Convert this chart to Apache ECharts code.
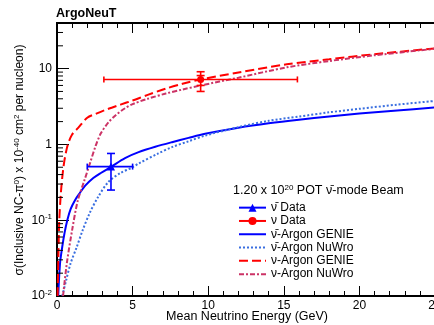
<!DOCTYPE html>
<html>
<head>
<meta charset="utf-8">
<script src="https://cdn.jsdelivr.net/npm/echarts@6/dist/echarts.min.js"></script>
<style>
  html, body { margin: 0; padding: 0; background: #fff; }
  #chart { width: 434px; height: 325px; }
</style>
</head>
<body>
<div id="chart"></div>
<script>
// ν̄ GENIE (solid blue)
const genieNubarE = [0.08, 0.2, 0.35, 0.5, 0.68, 0.9, 1.2, 1.5, 1.9, 2.4, 2.9, 3.6, 4.5, 5.4, 6.5, 7.6, 8.7, 9.8, 12, 14, 16, 18, 20, 22.5, 25];
const genieNubarSigma = [0.01, 0.027, 0.045, 0.068, 0.1, 0.14, 0.185, 0.227, 0.29, 0.36, 0.42, 0.51, 0.66, 0.79, 0.93, 1.07, 1.22, 1.38, 1.66, 1.9, 2.12, 2.33, 2.55, 2.8, 3.08];
// ν̄ NuWro (dotted blue)
const nuwroNubarE = [0.35, 0.6, 0.9, 1.3, 1.7, 2.16, 2.7, 3.4, 4.2, 5.0, 5.4, 6.7, 7.6, 8.7, 9.8, 12, 14, 16, 18, 20, 22.5, 25];
const nuwroNubarSigma = [0.01, 0.016, 0.027, 0.044, 0.074, 0.124, 0.2, 0.32, 0.42, 0.5, 0.56, 0.76, 0.92, 1.1, 1.31, 1.69, 2.05, 2.33, 2.65, 2.95, 3.35, 3.75];
// ν GENIE (dashed red)
const genieNuE = [0.04, 0.1, 0.15, 0.25, 0.35, 0.46, 0.6, 0.72, 1.0, 1.4, 2.0, 2.6, 3.4, 4.2, 5.0, 6.0, 7.2, 8.3, 9.5, 12, 15.2, 18, 21, 25];
const genieNuSigma = [0.01, 0.04, 0.1, 0.22, 0.37, 0.56, 0.8, 1.0, 1.35, 1.65, 2.25, 2.55, 2.95, 3.35, 3.8, 4.5, 5.45, 6.3, 7.2, 8.9, 11.4, 13.3, 15.5, 18.5];
// ν NuWro (dash-dot pink)
const nuwroNuE = [0.4, 0.65, 1.0, 1.37, 1.8, 2.2, 2.55, 2.9, 3.4, 3.9, 4.5, 5.0, 6.0, 7.2, 8.3, 9.5, 12, 15.2, 18, 21, 25];
const nuwroNuSigma = [0.01, 0.027, 0.074, 0.18, 0.33, 0.58, 0.95, 1.4, 1.95, 2.45, 3.0, 3.4, 4.0, 4.7, 5.3, 6.0, 7.6, 10.4, 12.6, 15.0, 18.3];

// measured points: ν̄ then ν
const dataNames = ['ν̄ Data', 'ν Data'];
const dataE = [3.57, 9.5];
const dataSigma = [0.51, 7.2];
const dataELow = [2.0, 3.1];
const dataEHigh = [5.0, 15.9];
const dataTotLow = [0.25, 5.0];
const dataTotHigh = [0.76, 9.1];
const dataStatLow = [null, 6.0];
const dataStatHigh = [null, 8.1];

const xTicks = [0, 5, 10, 15, 20, 25];
const yDecades = [0.01, 0.1, 1, 10];

const FONT = 'Liberation Sans, Arial, Helvetica, sans-serif';
const sup = { fontSize: 8, fontFamily: FONT, color: '#000', padding: [0, 0, 7, 0] };

const BLUE = '#0000ff';
const LBLUE = '#3a6fe0';
const RED = '#ff0000';
const PINK = '#cc3366';
const dataColors = [BLUE, RED];

const yMinor = [];
yDecades.forEach(d => { for (let k = 2; k <= 9; k++) { if (k * d < 40) yMinor.push(k * d); } });

const chart = echarts.init(document.getElementById('chart'), null, { renderer: 'canvas' });

function pairs(xs, ys) { return xs.map((x, i) => [x, ys[i]]); }

const errRows = dataE.map((e, i) => [e, dataSigma[i], dataELow[i], dataEHigh[i], dataTotLow[i], dataTotHigh[i],
  dataStatLow[i] == null ? NaN : dataStatLow[i], dataStatHigh[i] == null ? NaN : dataStatHigh[i]]);

function seg(x1, y1, x2, y2, color) {
  return { type: 'line', shape: { x1, y1, x2, y2 }, style: { stroke: color, lineWidth: 1.6 } };
}

// legend entries for curves: line only, no marker
const noMarker = { opacity: 0 };

const option = {
  backgroundColor: '#fff',
  animation: false,
  grid: {
    left: 57, top: 23, width: 378, height: 273, show: true, borderColor: '#000', borderWidth: 2,
    backgroundColor: 'transparent', containLabel: false, outerBoundsMode: 'none'
  },
  xAxis: [{
    type: 'value', min: 0, max: 25, interval: 5,
    axisLine: { show: true, lineStyle: { color: '#000', width: 2 } },
    axisTick: { show: true, inside: true, length: 10, lineStyle: { color: '#000', width: 1 } },
    minorTick: { show: true, splitNumber: 5, length: 5, lineStyle: { color: '#000', width: 1 } },
    splitLine: { show: false },
    axisLabel: { color: '#000', fontSize: 12, fontFamily: FONT, margin: 4,
      formatter: v => xTicks.includes(v) ? String(v) : '' }
  }, {
    type: 'value', min: 0, max: 25, interval: 5, position: 'top',
    axisLine: { show: false },
    axisTick: { show: true, inside: true, length: 10, lineStyle: { color: '#000', width: 1 } },
    minorTick: { show: true, splitNumber: 5, length: 5, lineStyle: { color: '#000', width: 1 } },
    splitLine: { show: false },
    axisLabel: { show: false }
  }],
  yAxis: {
    type: 'log', logBase: 10, min: 0.01, max: 40,
    axisLine: { show: true, lineStyle: { color: '#000', width: 2 } },
    axisTick: { show: true, inside: true, length: 12, lineStyle: { color: '#000', width: 1 } },
    splitLine: { show: false },
    axisLabel: {
      color: '#000', fontSize: 12, fontFamily: FONT, margin: 5, showMaxLabel: false,
      rich: { sup },
      formatter: v => {
        if (Math.abs(v - 1) < 1e-9) return '1';
        if (Math.abs(v - 10) < 1e-9) return '10';
        const p = Math.round(Math.log10(v));
        return '10{sup|' + p + '}';
      }
    }
  },
  legend: {
    left: 233, top: 196, orient: 'vertical',
    itemWidth: 27, itemHeight: 10, itemGap: 0,
    textStyle: { color: '#000', fontSize: 12, fontFamily: FONT, lineHeight: 13.3 },
    data: [
      { name: 'ν̄ Data' },
      { name: 'ν Data' },
      { name: 'ν̄-Argon GENIE', itemStyle: noMarker },
      { name: 'ν̄-Argon NuWro', itemStyle: noMarker },
      { name: 'ν-Argon GENIE', itemStyle: noMarker },
      { name: 'ν-Argon NuWro', itemStyle: noMarker }
    ]
  },
  graphic: [
    { type: 'text', left: 56, top: 7, style: { text: 'ArgoNeuT', font: 'bold 12.5px ' + FONT, fill: '#000' } },
    { type: 'text', x: 328, y: 317, style: { text: 'Mean Neutrino Energy (GeV)', font: '12.5px ' + FONT, fill: '#000', align: 'right', verticalAlign: 'middle' } },
    { type: 'text', x: 20, y: 160, rotation: Math.PI / 2,
      style: { text: 'σ(Inclusive NC-π{sup|0}) x 10{sup|-40} cm{sup|2} per nucleon)', font: '12px ' + FONT, fill: '#000',
        align: 'center', verticalAlign: 'middle', rich: { sup } } },
    { type: 'text', x: 233, y: 191,
      style: { text: '1.20 x 10{sup|20} POT ν̄-mode Beam', font: '12.5px ' + FONT, fill: '#000',
        align: 'left', verticalAlign: 'middle', rich: { sup } } }
  ],
  series: [
    {
      name: 'ν̄-Argon GENIE', type: 'line', data: pairs(genieNubarE, genieNubarSigma),
      symbol: 'none', smooth: 0.3, lineStyle: { color: BLUE, width: 2 }, itemStyle: { color: BLUE }, z: 3
    },
    {
      name: 'ν̄-Argon NuWro', type: 'line', data: pairs(nuwroNubarE, nuwroNubarSigma),
      symbol: 'none', smooth: 0.3, lineStyle: { color: LBLUE, width: 2, type: [2, 2] }, itemStyle: { color: LBLUE }, z: 3
    },
    {
      name: 'ν-Argon GENIE', type: 'line', data: pairs(genieNuE, genieNuSigma),
      symbol: 'none', smooth: 0.3, lineStyle: { color: RED, width: 2, type: [9, 4] }, itemStyle: { color: RED }, z: 3
    },
    {
      name: 'ν-Argon NuWro', type: 'line', data: pairs(nuwroNuE, nuwroNuSigma),
      symbol: 'none', smooth: 0.3, lineStyle: { color: PINK, width: 2, type: [5, 2, 2, 2] }, itemStyle: { color: PINK }, z: 3
    },
    {
      name: 'errors', type: 'custom', data: errRows, z: 4, silent: true,
      encode: { x: [0, 2, 3], y: [1, 4, 5] },
      renderItem: (params, api) => {
        const i = params.dataIndex;
        const col = dataColors[i];
        const c = api.coord([api.value(0), api.value(1)]);
        const xl = api.coord([api.value(2), api.value(1)]);
        const xh = api.coord([api.value(3), api.value(1)]);
        const yl = api.coord([api.value(0), api.value(4)]);
        const yh = api.coord([api.value(0), api.value(5)]);
        const kids = [
          seg(xl[0], c[1], xh[0], c[1], col),
          seg(xl[0], c[1] - 3, xl[0], c[1] + 3, col),
          seg(xh[0], c[1] - 3, xh[0], c[1] + 3, col),
          seg(c[0], yl[1], c[0], yh[1], col),
          seg(c[0] - 4, yl[1], c[0] + 4, yl[1], col),
          seg(c[0] - 4, yh[1], c[0] + 4, yh[1], col)
        ];
        if (!isNaN(api.value(6))) {
          const sl = api.coord([api.value(0), api.value(6)]);
          const sh = api.coord([api.value(0), api.value(7)]);
          kids.push(seg(c[0] - 4, sl[1], c[0] + 4, sl[1], col));
          kids.push(seg(c[0] - 4, sh[1], c[0] + 4, sh[1], col));
        }
        return { type: 'group', children: kids };
      }
    },
    {
      name: dataNames[0], type: 'line', data: [[dataE[0], dataSigma[0]]],
      symbol: 'triangle', symbolSize: 8, lineStyle: { color: BLUE, width: 2 }, itemStyle: { color: BLUE }, z: 5
    },
    {
      name: dataNames[1], type: 'line', data: [[dataE[1], dataSigma[1]]],
      symbol: 'circle', symbolSize: 7, lineStyle: { color: RED, width: 2 }, itemStyle: { color: RED }, z: 5
    },
    {
      name: 'yMinorTicks', type: 'custom', data: yMinor.map(v => [0, v]), silent: true, z: 6,
      renderItem: (params, api) => {
        const p = api.coord([0, api.value(1)]);
        return { type: 'line', shape: { x1: p[0], y1: p[1], x2: p[0] + 6, y2: p[1] }, style: { stroke: '#000', lineWidth: 1 } };
      }
    }
  ]
};

chart.setOption(option);
window.addEventListener('resize', () => chart.resize());
</script>
</body>
</html>
